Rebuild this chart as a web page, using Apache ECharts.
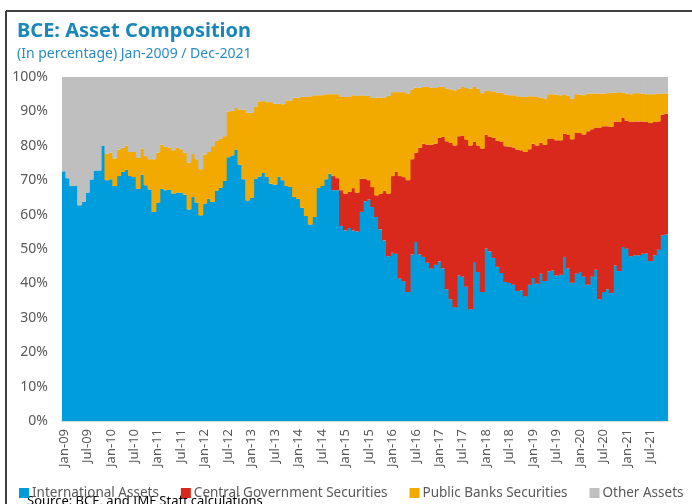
<!DOCTYPE html>
<html>
<head>
<meta charset="utf-8">
<title>BCE: Asset Composition</title>
<script src="https://cdn.jsdelivr.net/npm/echarts@6/dist/echarts.min.js"></script>
<style>
  html, body { margin: 0; padding: 0; background: #fff; }
  #main { width: 692px; height: 504px; }
</style>
</head>
<body>
<div id="main"></div>
<script>
// months Jan-09 .. Nov-21
var monthNames = ['Jan','Feb','Mar','Apr','May','Jun','Jul','Aug','Sep','Oct','Nov','Dec'];
var firstYear = 2009;
var monthCount = 155;

var international = [
  72.6,70.6,68.3,68.3,62.7,63.7,66.4,70.2,72.8,72.8,80.1,70.0,
  70.3,68.3,71.2,72.4,73.1,71.2,70.9,67.5,71.6,68.5,67.3,60.8,
  63.5,67.5,67.1,67.2,66.1,66.4,66.4,65.8,61.5,65.1,63.5,59.8,
  63.2,64.6,63.7,67.0,67.8,69.8,76.7,77.2,78.9,74.5,70.3,64.1,
  64.9,70.4,71.1,72.1,70.9,69.0,68.7,71.1,70.0,68.3,68.0,65.1,
  64.6,62.0,59.6,57.1,59.3,67.7,68.3,70.3,71.9,67.1,67.1,56.7,
  55.4,56.1,55.4,55.1,60.8,63.9,64.4,62.2,59.3,55.7,52.5,47.9,
  48.9,48.6,41.4,40.6,37.5,48.4,52.0,48.4,47.7,46.0,44.3,45.4,
  46.4,44.3,38.3,35.4,33.1,42.3,41.9,39.0,32.5,46.2,43.3,37.5,
  50.1,49.3,47.4,44.8,43.0,40.4,40.1,39.6,37.8,38.0,36.3,39.6,
  41.6,39.9,42.8,40.7,43.5,43.8,42.3,42.5,47.7,44.3,40.2,42.8,
  43.3,41.9,39.6,41.9,44.0,35.4,37.5,38.3,37.2,45.2,43.6,50.6,
  50.1,47.9,48.2,48.2,48.6,48.8,46.5,48.2,49.8,54.0,54.3
];

var centralGov = [
  0,0,0,0,0,0,0,0,0,0,0,0,
  0,0,0,0,0,0,0,0,0,0,0,0,
  0,0,0,0,0,0,0,0,0,0,0,0,
  0,0,0,0,0,0,0,0,0,0,0,0,
  0,0,0,0,0,0,0,0,0,0,0,0,
  0,0,0,0,0,0,0,0,0,4.1,3.5,10.4,
  10.7,10.5,12.3,11.3,9.6,6.5,5.6,5.8,6.3,10.4,14.4,18.2,
  22.3,23.8,29.8,30.3,32.5,27.7,26.0,31.0,32.9,34.3,36.0,35.2,
  35.9,38.3,43.0,45.4,47.0,40.5,41.1,42.8,47.6,34.9,36.8,41.7,
  33.1,33.3,34.9,36.6,38.1,39.5,39.6,39.9,41.1,40.7,41.9,39.4,
  39.0,40.2,38.1,39.6,38.6,38.3,39.3,39.1,35.8,39.0,41.7,40.9,
  40.4,41.4,44.6,42.9,41.3,49.9,48.2,47.4,48.3,41.9,43.3,37.6,
  37.2,39.0,38.9,38.9,38.5,38.1,40.1,38.7,37.3,35.0,35.0
];

var publicBanks = [
  0,0,0,0,0,0,0,0,0,0,0,7.7,
  7.7,8.0,7.7,7.0,7.0,7.0,7.3,9.0,7.6,8.5,8.8,15.3,
  14.5,12.8,12.6,12.3,12.6,13.0,12.6,12.2,13.6,12.5,12.6,13.4,
  14.3,13.6,16.2,14.4,14.3,13.0,13.3,12.9,12.1,16.0,20.2,25.5,
  24.7,20.9,21.8,20.9,21.8,23.7,23.5,21.1,22.1,24.9,25.2,28.9,
  29.4,32.2,34.6,37.3,35.4,27.0,26.4,24.7,23.1,23.8,24.4,27.1,
  28.1,27.6,27.0,28.1,24.3,24.1,24.5,25.9,28.4,27.9,27.2,28.4,
  24.4,23.2,24.4,24.7,25.2,20.3,18.9,17.5,16.5,16.8,16.6,16.2,
  14.8,14.5,15.3,15.6,16.0,13.8,14.1,15.0,16.5,16.0,16.5,16.1,
  12.9,13.3,13.5,14.0,14.3,15.0,15.0,15.2,15.5,15.5,16.0,15.4,
  13.8,14.1,13.1,13.4,12.9,12.9,13.3,13.1,11.5,11.2,11.8,11.3,
  11.2,11.4,11.0,10.4,9.9,9.9,9.5,9.6,9.9,8.3,8.7,7.2,
  7.9,8.1,8.2,8.2,8.1,8.1,8.4,8.1,8.1,6.2,5.9
];

var otherAssets = [
  27.4,29.4,31.7,31.7,37.3,36.3,33.6,29.8,27.2,27.2,19.9,22.3,
  22.0,23.7,21.1,20.6,19.9,21.8,21.8,23.5,20.8,23.0,23.9,23.9,
  22.0,19.7,20.3,20.5,21.3,20.6,21.0,22.0,24.9,22.4,23.9,26.8,
  22.5,21.8,20.1,18.6,17.9,17.2,10.0,9.9,9.0,9.5,9.5,10.4,
  10.4,8.7,7.1,7.0,7.3,7.3,7.8,7.8,7.9,6.8,6.8,6.0,
  6.0,5.8,5.8,5.6,5.3,5.3,5.3,5.0,5.0,5.0,5.0,5.8,
  5.8,5.8,5.3,5.5,5.3,5.5,5.5,6.1,6.0,6.0,5.9,5.5,
  4.4,4.4,4.4,4.4,4.8,3.6,3.1,3.1,2.9,2.9,3.1,3.2,
  2.9,2.9,3.4,3.6,3.9,3.4,2.9,3.2,3.4,2.9,3.4,4.7,
  3.9,4.1,4.2,4.6,4.6,5.1,5.3,5.3,5.6,5.8,5.8,5.6,
  5.6,5.8,6.0,6.3,5.0,5.0,5.1,5.3,5.0,5.5,6.3,5.0,
  5.1,5.3,4.8,4.8,4.8,4.8,4.8,4.7,4.6,4.6,4.4,4.6,
  4.8,5.0,4.7,4.7,4.8,5.0,5.0,5.0,4.8,4.8,4.8
];

var seriesNames = ['International Assets', 'Central Government Securities', 'Public Banks Securities', 'Other Assets'];
var seriesColors = ['#009ddc', '#d9291c', '#f2a900', '#bfbfbf'];

var categories = [];
for (var i = 0; i < monthCount; i++) {
  var y = firstYear + Math.floor(i / 12);
  categories.push(monthNames[i % 12] + '-' + String(y).slice(2));
}

var font = '"Noto Sans", "Open Sans", sans-serif';
var myChart = echarts.init(document.getElementById('main'));

var seriesData = [international, centralGov, publicBanks, otherAssets];
var series = seriesData.map(function (d, k) {
  return {
    name: seriesNames[k],
    type: 'bar',
    stack: 'total',
    // bars a bit wider than the band so neighbours overlap and no white seams show
    barWidth: 5,
    itemStyle: { color: seriesColors[k] },
    data: d
  };
});

var option = {
  animation: false,
  title: {
    text: 'BCE: Asset Composition',
    subtext: '(In percentage) Jan-2009 / Dec-2021',
    left: 12,
    top: 16,
    itemGap: 6,
    textStyle: { fontFamily: font, fontSize: 20, fontWeight: 'bold', color: '#1a87b9' },
    subtextStyle: { fontFamily: font, fontSize: 14, color: '#2a8cc0' }
  },
  legend: {
    data: seriesNames,
    left: 14,
    top: 481,
    width: 690,
    icon: 'rect',
    itemWidth: 10,
    itemHeight: 10,
    itemGap: 22,
    textStyle: { fontFamily: font, fontSize: 13.5, color: '#595959', padding: [0, 0, 0, -2] }
  },
  grid: { left: 62, right: 24, top: 77, bottom: 83 },
  xAxis: {
    type: 'category',
    data: categories,
    axisLine: { lineStyle: { color: '#d9d9d9', width: 2 } },
    axisTick: { interval: 5, length: 5, lineStyle: { color: '#d9d9d9', width: 2 } },
    axisLabel: { interval: 5, rotate: 90, fontFamily: font, fontSize: 13, color: '#595959', margin: 8 }
  },
  yAxis: {
    type: 'value',
    min: 0,
    max: 100,
    interval: 10,
    splitLine: { show: false },
    axisLine: { show: false },
    axisTick: { show: false },
    axisLabel: { formatter: '{value}%', fontFamily: font, fontSize: 14, color: '#595959', margin: 14 }
  },
  graphic: [
    { type: 'line', shape: { x1: 6, y1: 11, x2: 692, y2: 11 }, style: { stroke: '#404040', lineWidth: 2 } },
    { type: 'line', shape: { x1: 6, y1: 11, x2: 6, y2: 504 }, style: { stroke: '#404040', lineWidth: 2 } },
    { type: 'text', left: 27, top: 495, style: { text: 'Source: BCE, and IMF Staff calculations', fontFamily: font, fontSize: 13, fill: '#000' } }
  ],
  series: series
};

myChart.setOption(option);
</script>
</body>
</html>
